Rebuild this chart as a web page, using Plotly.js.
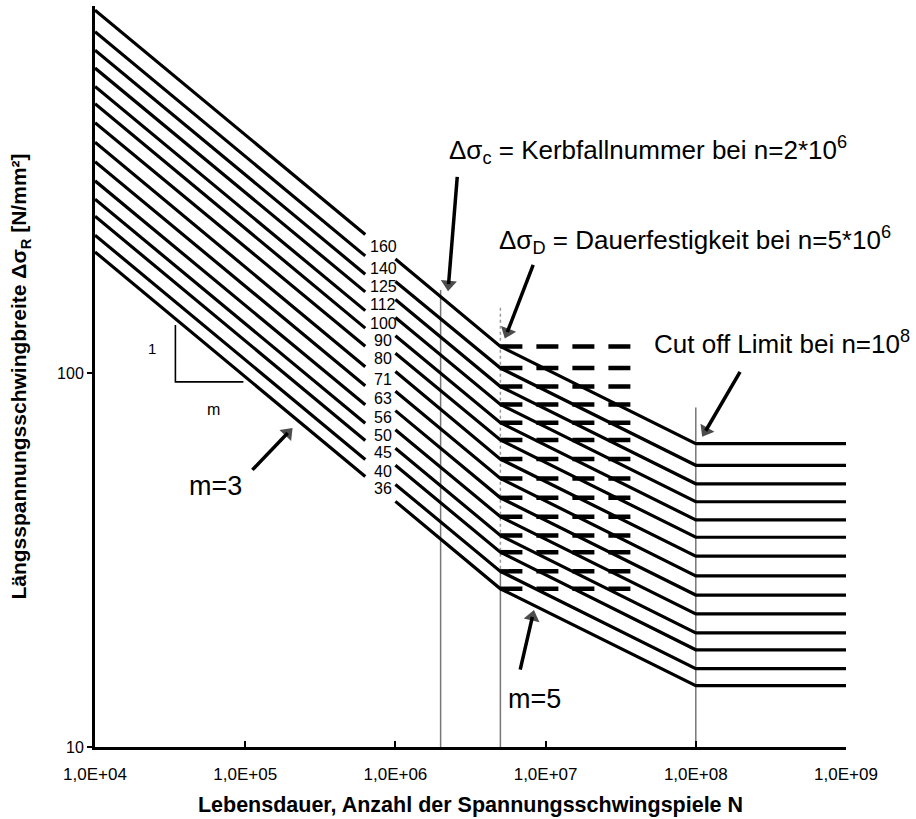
<!DOCTYPE html>
<html>
<head>
<meta charset="utf-8">
<script src="https://cdn.plot.ly/plotly-3.0.1.min.js"></script>
<style>html,body{margin:0;padding:0;background:#fff;}#chart{width:916px;height:819px;}</style>
</head>
<body>
<div id="chart"></div>
<script>
// ---- data ----
const catLabels = ['160','140','125','112','100','90','80','71','63','56','50','45','40','36'];
// N break points of the curves
const nStart = 1e4;      // left edge
const nGapL = 6.3e5;     // left segment ends (label gap)
const nGapR = 1e6;       // right segment starts
const nD = 5e6;          // constant amplitude fatigue limit
const nL = 1e8;          // cut-off limit
const nEnd = 1e9;        // right edge
const nDashEnd = 4e7;    // end of dashed ΔσD extension
// stress ranges [N/mm²] at those N
const sStart = [936, 819, 731, 655, 585, 526, 468, 415, 368, 327, 292, 263, 234, 211];
const sGapL  = [235, 206, 184, 165, 147, 132, 118, 104, 92.6, 82.3, 73.5, 66.1, 58.8, 52.9];
const sGapR  = [202, 176, 157.5, 141, 126, 113, 101, 89.5, 79.4, 70.6, 63, 56.7, 50.4, 45.4];
const sD     = [117.9, 103.2, 92.1, 82.5, 73.7, 66.3, 58.9, 52.3, 46.4, 41.3, 36.8, 33.2, 29.5, 26.5];
const sL     = [64.8, 56.7, 50.6, 45.3, 40.5, 36.4, 32.4, 28.7, 25.5, 22.7, 20.2, 18.2, 16.2, 14.6];
// reference verticals
const refN   = [2e6, 1e8];
const refTop = [167, 81];
const ref5Top = 150, ref5Mid = 30;
// slope triangle
const triN = [34300, 34300, 97300];
const triS = [134.6, 94.8, 94.8];
// axis ticks
const xTickVals = [1e4, 1e5, 1e6, 1e7, 1e8, 1e9];
const xTickText = ['1,0E+04','1,0E+05','1,0E+06','1,0E+07','1,0E+08','1,0E+09'];
const yTickVals = [10, 100];
const yTickText = ['10','100'];

const FONT = 'Liberation Sans, Arial, sans-serif';
const traces = [];

// gray reference lines
refN.forEach((n, i) => {
  traces.push({x:[n, n], y:[10, refTop[i]], mode:'lines', line:{color:'#777', width:1.5}, hoverinfo:'skip'});
});
traces.push({x:[nD, nD], y:[ref5Mid, ref5Top], mode:'lines', line:{color:'#999', width:1.5, dash:'dot'}, hoverinfo:'skip'});
traces.push({x:[nD, nD], y:[10, ref5Mid], mode:'lines', line:{color:'#777', width:1.5}, hoverinfo:'skip'});

// dashed ΔσD extensions
catLabels.forEach((c, i) => {
  traces.push({x:[nD, nDashEnd], y:[sD[i], sD[i]], mode:'lines',
    line:{color:'#000', width:4.5, dash:'22px,14px'}, hoverinfo:'skip'});
});

// S-N curves
catLabels.forEach((c, i) => {
  traces.push({
    x:[nStart, nGapL, null, nGapR, nD, nL, nEnd],
    y:[sStart[i], sGapL[i], null, sGapR[i], sD[i], sL[i], sL[i]],
    mode:'lines', connectgaps:false, name:c,
    line:{color:'#000', width:3.2}
  });
});

// slope triangle
traces.push({x:triN, y:triS, mode:'lines', line:{color:'#000', width:1.6}, hoverinfo:'skip'});

// pointer arrows (tail -> head), positions in log10 axis units
function arrow(x0, y0, x1, y1) {
  traces.push({x:[Math.pow(10, x0), Math.pow(10, x1)], y:[Math.pow(10, y0), Math.pow(10, y1)],
    mode:'lines+markers', line:{color:'#000', width:3.5},
    marker:{symbol:'triangle-up', size:[0, 14], color:'#000', angleref:'previous', line:{width:0}},
    hoverinfo:'skip', cliponaxis:false});
}
arrow(6.4118, 2.5249, 6.354, 2.238);
arrow(6.9175, 2.2896, 6.745, 2.110);
arrow(8.2947, 2.0035, 8.066, 1.846);
arrow(5.0479, 1.7414, 5.283, 1.840);
arrow(6.831, 1.2067, 6.912, 1.348);

const annotations = [];
// category labels in the gap
const labX = Math.log10(Math.sqrt(nGapL * nGapR)) + 0.02;
catLabels.forEach((c, i) => {
  annotations.push({x:labX, y:Math.log10(Math.sqrt(sGapL[i]*sGapR[i])), xref:'x', yref:'y',
    text:c, showarrow:false, font:{family:FONT, size:16, color:'#000'}, xanchor:'center', yanchor:'middle'});
});

function txt(x, y, t, size, anchor) {
  annotations.push({x:x, y:y, xref:'x', yref:'y', text:t, showarrow:false,
    font:{family:FONT, size:size, color:'#000'}, xanchor:anchor || 'left', yanchor:'middle'});
}
txt(6.3453, 2.597, 'Δσ<sub>c</sub> = Kerbfallnummer bei n=2*10<sup>6</sup>', 26);
txt(6.678, 2.356, 'Δσ<sub>D</sub> = Dauerfestigkeit bei n=5*10<sup>6</sup>', 26);
txt(7.709, 2.081, 'Cut off Limit bei n=10<sup>8</sup>', 26);
txt(4.8017, 1.6987, 'm=3', 27, 'center');
txt(6.924, 1.129, 'm=5', 27, 'center');
txt(4.3826, 2.065, '1', 15, 'center');
txt(4.788, 1.902, 'm', 16, 'center');
txt(6.305, 0.9607, '2', 17, 'center');
txt(6.651, 0.966, '5', 17, 'center');

const layout = {
  width:916, height:819,
  margin:{l:95, r:70, t:6, b:72},
  paper_bgcolor:'#fff', plot_bgcolor:'#fff',
  showlegend:false,
  font:{family:FONT, color:'#000'},
  xaxis:{type:'log', range:[4, 9], showgrid:false, zeroline:false,
    showline:true, linecolor:'#000', linewidth:3,
    tickmode:'array', tickvals:xTickVals, ticktext:xTickText,
    ticks:'inside', ticklen:6, tickwidth:2, tickcolor:'#000',
    ticklabelstandoff:10, automargin:true,
    tickfont:{family:FONT, size:17, color:'#000'},
    title:{text:'<b>Lebensdauer, Anzahl der Spannungsschwingspiele N</b>', standoff:14,
      font:{family:FONT, size:21.5, color:'#000'}}
  },
  yaxis:{type:'log', range:[1, Math.log10(960)], showgrid:false, zeroline:false,
    showline:true, linecolor:'#000', linewidth:3,
    tickmode:'array', tickvals:yTickVals, ticktext:yTickText,
    ticks:'outside', ticklen:5, tickwidth:2, tickcolor:'#000', automargin:true,
    tickfont:{family:FONT, size:16, color:'#000'},
    title:{text:'<b>Längsspannungsschwingbreite Δσ<sub>R</sub> [N/mm²]</b>', standoff:25,
      font:{family:FONT, size:21, color:'#000'}}
  },
  annotations:annotations
};
Plotly.newPlot('chart', traces, layout, {displayModeBar:false, staticPlot:true});
</script>
</body>
</html>
